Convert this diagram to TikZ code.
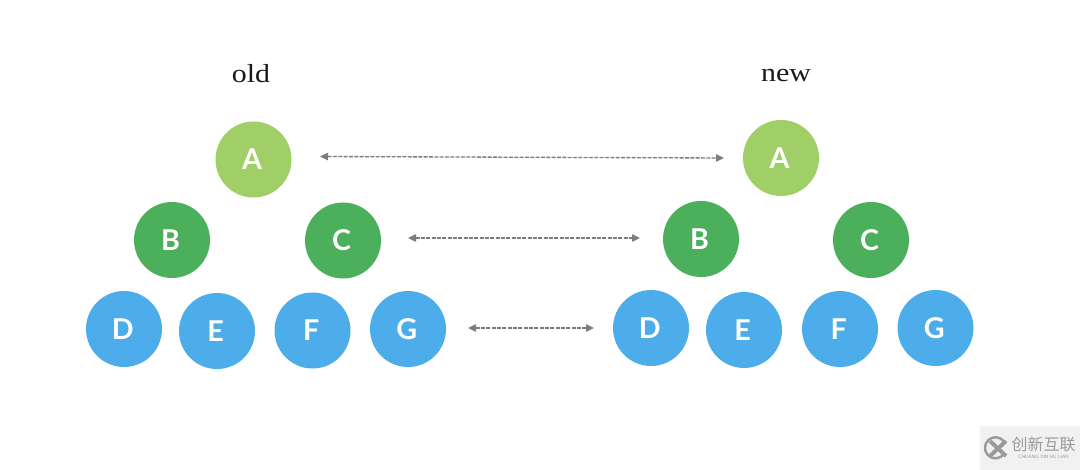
\documentclass[tikz,border=0pt]{standalone}
\usepackage{fontspec}
\setmainfont{Liberation Serif}
\newfontfamily\headfont[FakeStretch=1.15]{Liberation Serif}
\newfontfamily\lblfont{Lato}
\newfontfamily\cjkfont{Noto Sans CJK SC}
\newfontfamily\wmfont{Liberation Sans}
\usetikzlibrary{arrows.meta}
\definecolor{lime}{HTML}{A0CE67}
\definecolor{leaf}{HTML}{4CAF5C}
\definecolor{sky}{HTML}{4DADEA}
\definecolor{dashgray}{HTML}{7C7C7C}
\definecolor{wmbg}{HTML}{F1F1F1}
\definecolor{wmink}{HTML}{9A9A9A}
\newcommand{\lbl}[1]{#1\kern2pt}
\tikzset{
  treenode/.style={circle,minimum size=57pt,inner sep=0pt,text=white,font=\lblfont\bfseries\fontsize{21.5}{24}\selectfont},
  rootnode/.style={treenode,fill=lime},
  midnode/.style={treenode,fill=leaf},
  leafnode/.style={treenode,fill=sky},
  heading/.style={inner sep=0pt,anchor=base,text=black!90,font=\headfont\fontsize{19.5}{24}\selectfont},
  link/.style={draw=dashgray,line width=1pt,dash pattern=on 3pt off 1pt,{Triangle[length=6pt,width=5.5pt]}-{Triangle[length=6pt,width=5.5pt]}}
}
\begin{document}
\begin{tikzpicture}[x=0.75pt,y=-0.75pt]
\useasboundingbox (0,0) rectangle (1080,470);
\fill[white] (0,0) rectangle (1080,470);
\node[heading] (oldh) at (251,83) {old};
\node[heading] (newh) at (786,82) {new};
\node[rootnode] (a1) at (253.5,159.5) {\lbl{A}};
\node[midnode] (b1) at (172,240) {\lbl{B}};
\node[midnode] (c1) at (343,240.5) {\lbl{C}};
\node[leafnode] (d1) at (124,329) {\lbl{D}};
\node[leafnode] (e1) at (217,331) {\lbl{E}};
\node[leafnode] (f1) at (312.5,330.5) {\lbl{F}};
\node[leafnode] (g1) at (408,329) {\lbl{G}};
\node[rootnode] (a2) at (781,158) {\lbl{A}};
\node[midnode] (b2) at (701,239) {\lbl{B}};
\node[midnode] (c2) at (871,240) {\lbl{C}};
\node[leafnode] (d2) at (651,328) {\lbl{D}};
\node[leafnode] (e2) at (744,330) {\lbl{E}};
\node[leafnode] (f2) at (840,329) {\lbl{F}};
\node[leafnode] (g2) at (935.5,328) {\lbl{G}};
\coordinate (l1a) at (320,156.5);
\coordinate (l1b) at (724,158);
\coordinate (l2a) at (408,238);
\coordinate (l2b) at (640,238);
\coordinate (l3a) at (468,328);
\coordinate (l3b) at (594,328);
\draw[link] (l1a) -- (l1b);
\draw[link] (l2a) -- (l2b);
\draw[link] (l3a) -- (l3b);
% watermark
\fill[wmbg] (980,426) rectangle (1080,470);
\draw[wmink,line width=1.8pt] (1003.5,441) arc (-40:-320:10.5);
\draw[wmink,line width=3pt] (990,441) -- (1006,456) (990,456) -- (1006,441);
\node[inner sep=0pt,text=wmink,font=\cjkfont\fontsize{12}{14}\selectfont] (wm) at (1043.5,444) {创新互联};
\node[inner sep=0pt,text=wmink,font=\wmfont\fontsize{3.6}{4}\selectfont] (wmsub) at (1043.5,456.5) {CHUANG XIN HU LIAN};
\end{tikzpicture}
\end{document}
